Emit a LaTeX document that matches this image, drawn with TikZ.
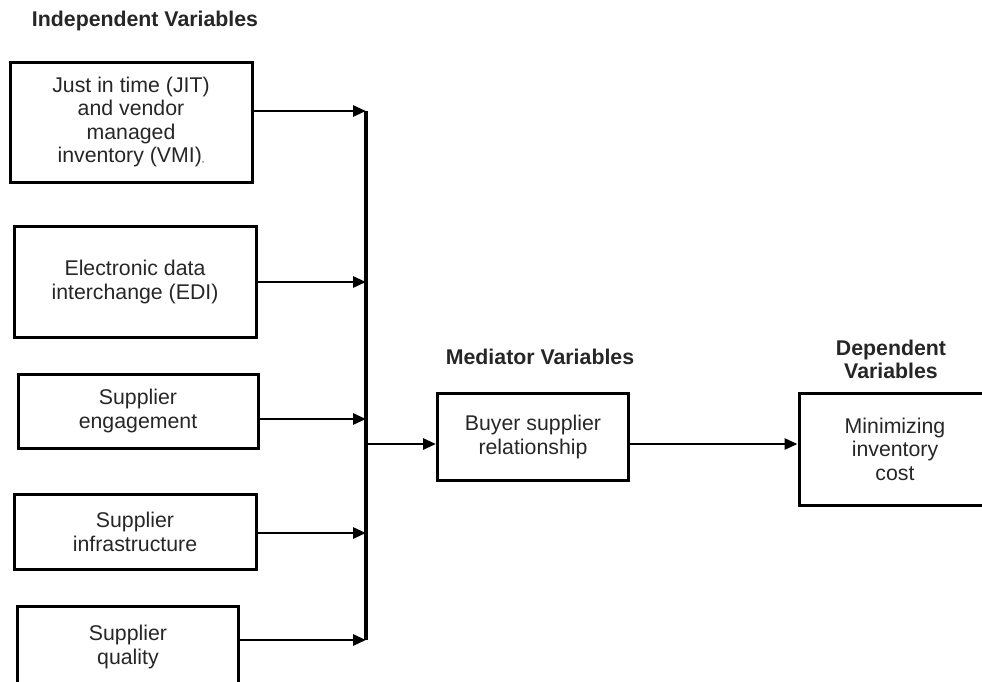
\documentclass[tikz,border=0pt]{standalone}
\usepackage{fontspec}
\setmainfont{Liberation Sans}
\usetikzlibrary{arrows.meta}

\begin{document}
\begin{tikzpicture}
 [x=1pt, y=-1pt,
  var box/.style={draw, line width=3pt, align=center, inner sep=0pt,
    font=\fontsize{21.3}{23.5}\selectfont, text=black!85},
  head/.style={align=center, font=\fontsize{21.3}{23}\selectfont\bfseries, text=black!85},
  feed/.style={-{Triangle[length=13pt,width=11pt]}, line width=2.8pt}]

 \useasboundingbox (0,0) rectangle (982,681);
 \clip (0,0) rectangle (982,681);

 % headings
 \node[head] (ind) at (145,21) {Independent Variables};
 \node[head] (med) at (540,357) {Mediator Variables};
 \node[head] (dep) at (891,359) {Dependent\\Variables};

 % independent variables
 \node[var box, minimum width=242pt, minimum height=120pt] (jit) at (131,122)
   {Just in time (JIT)\\and vendor\\managed\\inventory (VMI){\fontsize{9}{9}\selectfont,}};
 \node[var box, minimum width=242pt, minimum height=111pt] (edi) at (135,282)
   {Electronic data\\interchange (EDI)};
 \node[var box, minimum width=240pt, minimum height=74pt] (engage) at (138,411)
   {Supplier\\engagement};
 \node[var box, minimum width=242pt, minimum height=75pt] (infra) at (135,532)
   {Supplier\\infrastructure};
 \node[var box, minimum width=221pt, minimum height=81pt] (quality) at (128,647)
   {Supplier\\quality};

 % mediator and dependent
 \node[var box, minimum width=191pt, minimum height=87pt] (buyer) at (533,437)
   {Buyer supplier\\relationship};
 \node[var box, minimum width=192pt, minimum height=112pt] (cost) at (895,449)
   {Minimizing\\inventory\\cost};

 % collecting line
 \coordinate (b1) at (366,111);
 \coordinate (b2) at (366,282);
 \coordinate (b3) at (366,419);
 \coordinate (bm) at (366,444);
 \coordinate (b4) at (366,533);
 \coordinate (b5) at (366,640);
 \draw[line width=3.6pt] (b1) -- (b5);

 \draw[feed] (b1 -| jit.east) -- (b1);
 \draw[feed] (b2 -| edi.east) -- (b2);
 \draw[feed] (b3 -| engage.east) -- (b3);
 \draw[feed] (b4 -| infra.east) -- (b4);
 \draw[feed] (b5 -| quality.east) -- (b5);

 \draw[feed] (bm) -- (bm -| buyer.west);
 \draw[feed] (buyer.east |- bm) -- (cost.west |- bm);

\end{tikzpicture}
\end{document}
